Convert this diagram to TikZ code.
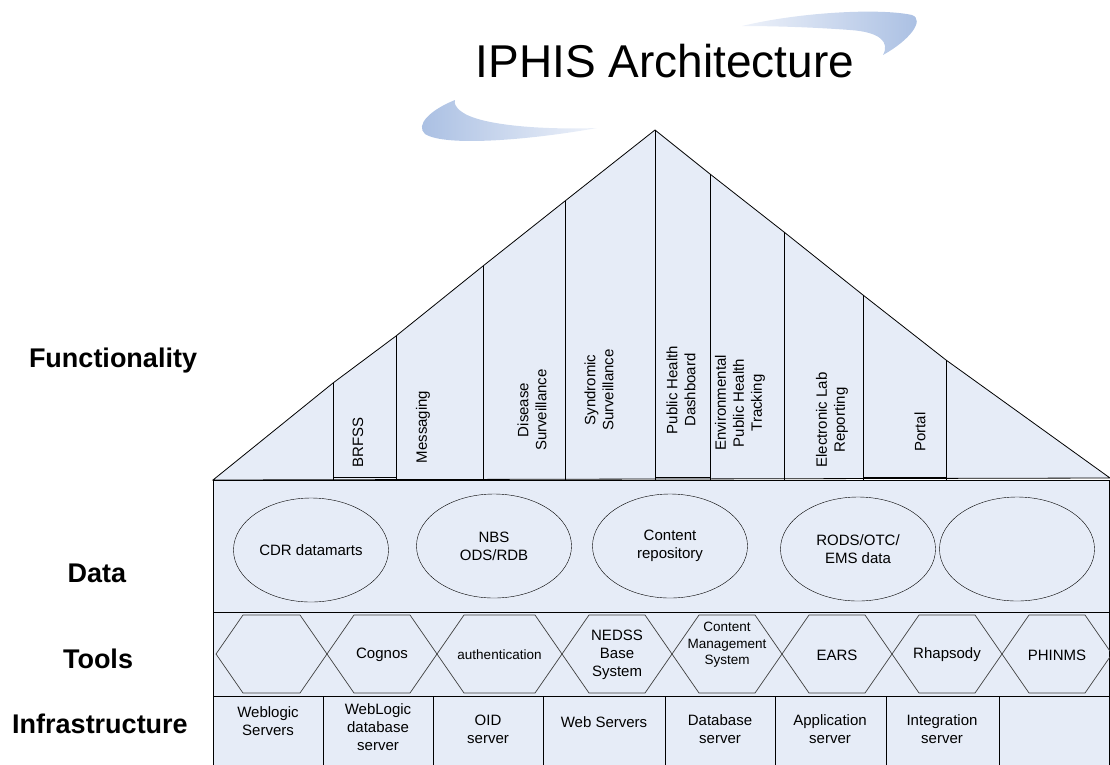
\documentclass[tikz,border=0pt]{standalone}
\usepackage{fontspec}
\setmainfont{Liberation Sans}
\usetikzlibrary{positioning}
\usetikzlibrary{shapes.geometric}
\definecolor{paleblue}{RGB}{230,236,247}
\definecolor{swooshblue}{RGB}{168,190,226}
\definecolor{swooshlight}{RGB}{238,242,250}

\begin{document}
\begin{tikzpicture}
      [
        x=1pt, y=-1pt,
        layername/.style = {font=\fontsize{27}{30}\selectfont\bfseries},
        smalltext/.style = {font=\fontsize{15}{18}\selectfont, align=center},
        tinytext/.style = {font=\fontsize{13.5}{16.5}\selectfont, align=center},
        colname/.style = {smalltext, rotate=90},
        store/.style = {draw, ellipse, smalltext, minimum width=155pt, minimum height=104pt, inner sep=0pt},
        rim/.style = {line width=0.8pt},
        hexline/.style = {line width=0.7pt, black!75}
      ]

      \useasboundingbox (0,0) rectangle (1110,764);

      % title and swooshes
      \shade[left color=swooshlight, right color=swooshblue]
        (742,26) .. controls (800,12) and (880,8) .. (912,15)
        .. controls (925,20) and (910,40) .. (883,55)
        .. controls (890,42) and (880,32) .. (850,30)
        .. controls (810,27) and (770,26) .. (742,26) -- cycle;
      \shade[left color=swooshblue, right color=swooshlight]
        (455,100) .. controls (430,110) and (415,125) .. (425,134)
        .. controls (445,147) and (530,140) .. (597,128)
        .. controls (540,130) and (480,125) .. (462,112)
        .. controls (455,107) and (454,103) .. (455,100) -- cycle;
      \node[font=\fontsize{46}{50}\selectfont, anchor=base] (title) at (665,77) {IPHIS Architecture};

      % layer names
      \node[layername, anchor=base] (lblfunc) at (113,367) {Functionality};
      \node[layername, anchor=base] (lbldata) at (97,582) {Data};
      \node[layername, anchor=base] (lbltools) at (98,668) {Tools};
      \node[layername, anchor=base] (lblinfra) at (100,733) {Infrastructure};

      % roof
      \filldraw[fill=paleblue, rim] (213,480) -- (333,383) -- (396,336) -- (483,266) -- (565,201)
        -- (655,130) -- (710,174) -- (784,232) -- (863,295) -- (946,360) -- (1110,478) -- cycle;
      \foreach \x/\y in {333/383, 396/336, 483/266, 565/201, 655/130, 710/174, 784/232, 863/295, 946/360}
        \draw[rim] (\x,\y) -- (\x,480);
      \foreach \a/\b in {333/396, 655/710, 863/946}
        \draw[rim] (\a,477) -- (\b,477);

      \node[colname] (brfss) at (358,442) {BRFSS};
      \node[colname] (messaging) at (423,427) {Messaging};
      \node[colname] (disease) at (532,410) {Disease\\Surveillance};
      \node[colname] (syndromic) at (599,390) {Syndromic\\Surveillance};
      \node[colname] (dashboard) at (681,390) {Public Health\\Dashboard};
      \node[colname] (envtrack) at (740,403) {Environmental\\Public Health\\Tracking};
      \node[colname] (elr) at (832,420) {Electronic Lab\\Reporting};
      \node[colname] (portal) at (920,432) {Portal};

      % data
      \filldraw[fill=paleblue, rim] (213,480) rectangle (1109,612);
      \node[store] (cdr) at (311,550) {CDR datamarts};
      \node[store] (nbs) at (494,546) {NBS\\ODS/RDB};
      \node[store] (content) at (670,546) {Content\\repository};
      \node[store] (rods) at (858,549) {RODS/OTC/\\EMS data};
      \node[store] (spare) at (1017,549) {};

      % tools
      \filldraw[fill=paleblue, rim] (213,612) rectangle (1109,696);
      \foreach \c/\w in {271.5/55.5, 382/55, 499.5/62.5, 617/55, 727/55, 837/55, 947/55, 1057/55}
        \draw[hexline] (\c-\w,654) -- (\c-\w+27,615) -- (\c+\w-27,615) -- (\c+\w,654)
          -- (\c+\w-27,693) -- (\c-\w+27,693) -- cycle;
      \node[smalltext] (cognos) at (382,655) {Cognos};
      \node[tinytext] (auth) at (499.5,655) {authentication};
      \node[smalltext] (nedss) at (617,655) {NEDSS\\Base\\System};
      \node[tinytext] (cms) at (727,645) {Content\\Management\\System};
      \node[smalltext] (ears) at (837,655) {EARS};
      \node[smalltext] (rhapsody) at (947,655) {Rhapsody};
      \node[smalltext] (phinms) at (1057,655) {PHINMS};

      % infrastructure
      \filldraw[fill=paleblue, rim] (213,696) rectangle (1109,775);
      \foreach \x in {323, 433, 543, 665, 775, 886, 999}
        \draw[rim] (\x,696) -- (\x,775);
      \node[smalltext] (weblogic) at (268,721) {Weblogic\\Servers};
      \node[smalltext] (wldb) at (378,727) {WebLogic\\database\\server};
      \node[smalltext] (oid) at (488,729) {OID\\server};
      \node[smalltext] (websrv) at (604,722) {Web Servers};
      \node[smalltext] (dbsrv) at (720,729) {Database\\server};
      \node[smalltext] (appsrv) at (830,729) {Application\\server};
      \node[smalltext] (intsrv) at (942,729) {Integration\\server};

    \end{tikzpicture}
\end{document}
